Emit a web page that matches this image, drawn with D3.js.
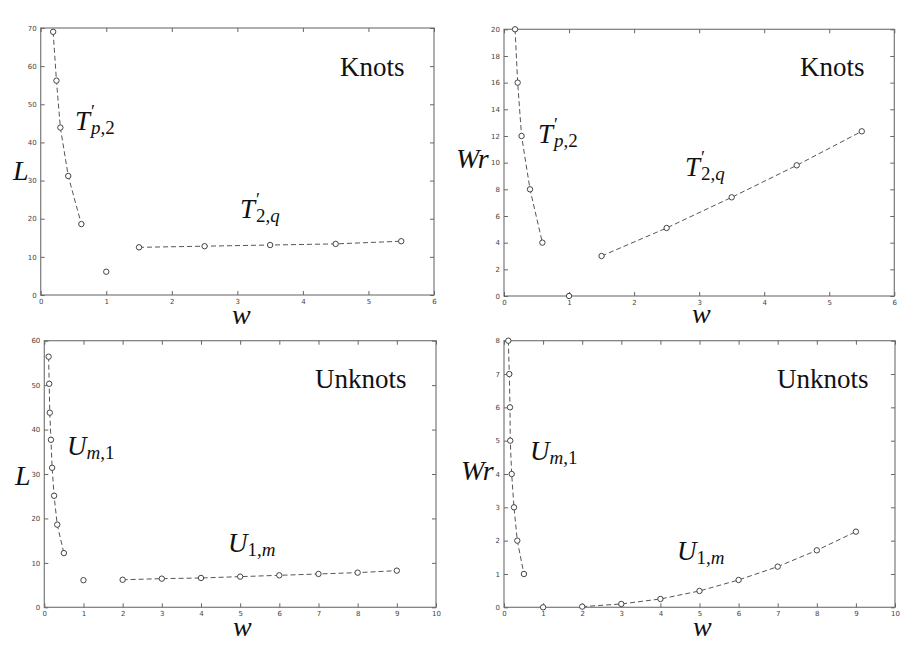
<!DOCTYPE html>
<html>
<head>
<meta charset="utf-8">
<script src="https://cdn.jsdelivr.net/npm/d3@7"></script>
<style>
  body { margin: 0; background: #fff; }
  svg { display: block; }
  .tick text { font-family: "DejaVu Sans", sans-serif; font-size: 7px; fill: #444; }
  .tick line { stroke: #666; }
  .lbl { font-family: "Liberation Serif", "Times New Roman", serif; fill: #111; }
</style>
</head>
<body>
<div name="chart"></div>
<script>
// --- data

// top-left: knots, L vs w
const knotsTp2W = [0.19, 0.24, 0.3, 0.42, 0.62];
const knotsTp2L = [69, 56.2, 43.9, 31.2, 18.6];
const knotsLoneW = [1];
const knotsLoneL = [6.1];
const knotsT2qW = [1.5, 2.5, 3.5, 4.5, 5.5];
const knotsT2qL = [12.5, 12.8, 13.1, 13.4, 14.1];

// top-right: knots, Wr vs w
const knotsTp2WrW = [0.17, 0.21, 0.27, 0.4, 0.59];
const knotsTp2Wr = [20, 16, 12, 8, 4];
const knotsLoneWr = [0];
const knotsT2qWr = [3.0, 5.1, 7.4, 9.8, 12.35];

// bottom-left: unknots, L vs w
const unkUm1W = [0.11, 0.125, 0.14, 0.17, 0.2, 0.25, 0.33, 0.5];
const unkUm1L = [56.4, 50.3, 43.8, 37.7, 31.4, 25.1, 18.6, 12.2];
const unkLoneW = [1];
const unkLoneL = [6.1];
const unkU1mW = [2, 3, 4, 5, 6, 7, 8, 9];
const unkU1mL = [6.2, 6.45, 6.6, 6.9, 7.2, 7.5, 7.8, 8.25];

// bottom-right: unknots, Wr vs w
const unkUm1WrW = [0.11, 0.136, 0.153, 0.16, 0.196, 0.256, 0.34, 0.51];
const unkUm1Wr = [8, 7, 6, 5, 4, 3, 2, 1];
const unkLoneWr = [0];
const unkU1mWr = [0.02, 0.1, 0.25, 0.49, 0.82, 1.22, 1.71, 2.27];

const xTicks6 = [0, 1, 2, 3, 4, 5, 6];
const xTicks10 = [0, 1, 2, 3, 4, 5, 6, 7, 8, 9, 10];

const zip = (xs, ys) => xs.map((x, i) => ({ x, y: ys[i] }));

const panels = [
  {
    box: [40.7, 28, 434, 295], xMax: 6, yMax: 70, xTicks: xTicks6, yTicks: d3.range(0, 71, 10),
    lines: [zip(knotsTp2W, knotsTp2L), zip(knotsT2qW, knotsT2qL)],
    lone: zip(knotsLoneW, knotsLoneL),
    yLabel: { text: 'L', x: 13, y: 180 }, xLabel: { x: 232, y: 324 },
    title: { text: 'Knots', x: 340, y: 76 },
    curves: [
      { main: 'T', sub: ['p', ',2'], prime: true, x: 75, y: 130 },
      { main: 'T', sub: ['2,', 'q'], prime: true, x: 240, y: 218 },
    ],
  },
  {
    box: [504, 29.3, 894.3, 296], xMax: 6, yMax: 20, xTicks: xTicks6, yTicks: d3.range(0, 21, 2),
    lines: [zip(knotsTp2WrW, knotsTp2Wr), zip(knotsT2qW, knotsT2qWr)],
    lone: zip(knotsLoneW, knotsLoneWr),
    yLabel: { text: 'Wr', x: 456, y: 168 }, xLabel: { x: 692, y: 323 },
    title: { text: 'Knots', x: 800, y: 76 },
    curves: [
      { main: 'T', sub: ['p', ',2'], prime: true, x: 538, y: 143 },
      { main: 'T', sub: ['2,', 'q'], prime: true, x: 685, y: 176 },
    ],
  },
  {
    box: [44.3, 340.7, 436, 607.3], xMax: 10, yMax: 60, xTicks: xTicks10, yTicks: d3.range(0, 61, 10),
    lines: [zip(unkUm1W, unkUm1L), zip(unkU1mW, unkU1mL)],
    lone: zip(unkLoneW, unkLoneL),
    yLabel: { text: 'L', x: 15, y: 485 }, xLabel: { x: 233, y: 636 },
    title: { text: 'Unknots', x: 315, y: 388 },
    curves: [
      { main: 'U', sub: ['m', ',1'], prime: false, x: 67, y: 455 },
      { main: 'U', sub: ['1,', 'm'], prime: false, x: 228, y: 552 },
    ],
  },
  {
    box: [504, 340.7, 895, 607.3], xMax: 10, yMax: 8, xTicks: xTicks10, yTicks: d3.range(0, 9, 1),
    lines: [zip(unkUm1WrW, unkUm1Wr), zip(unkU1mW, unkU1mWr)],
    lone: zip(unkLoneW, unkLoneWr),
    yLabel: { text: 'Wr', x: 461, y: 480 }, xLabel: { x: 693, y: 636 },
    title: { text: 'Unknots', x: 777, y: 388 },
    curves: [
      { main: 'U', sub: ['m', ',1'], prime: false, x: 530, y: 460 },
      { main: 'U', sub: ['1,', 'm'], prime: false, x: 677, y: 560 },
    ],
  },
];

const svg = d3.select('div[name=chart]').append('svg')
  .attr('width', 913)
  .attr('height', 652);

panels.forEach(p => {
  const [x0, y0, x1, y1] = p.box;
  const x = d3.scaleLinear().domain([0, p.xMax]).range([x0, x1]);
  const y = d3.scaleLinear().domain([0, p.yMax]).range([y1, y0]);
  const g = svg.append('g');

  g.append('rect')
    .attr('x', x0).attr('y', y0)
    .attr('width', x1 - x0).attr('height', y1 - y0)
    .attr('fill', '#fff')
    .attr('stroke', '#7a7a7a')
    .attr('stroke-width', 1.2);

  // inward ticks on all four sides, labels only bottom / left
  g.append('g')
    .attr('transform', `translate(0,${y1})`)
    .call(d3.axisBottom(x).tickValues(p.xTicks).tickSize(-4).tickPadding(4).tickFormat(d3.format('d')));
  g.append('g')
    .attr('transform', `translate(${x0},0)`)
    .call(d3.axisLeft(y).tickValues(p.yTicks).tickSize(-4).tickPadding(4).tickFormat(d3.format('d')));
  g.append('g')
    .attr('transform', `translate(0,${y0})`)
    .call(d3.axisTop(x).tickValues(p.xTicks).tickSize(-4).tickFormat(''));
  g.append('g')
    .attr('transform', `translate(${x1},0)`)
    .call(d3.axisRight(y).tickValues(p.yTicks).tickSize(-4).tickFormat(''));
  g.selectAll('.domain').remove();

  const line = d3.line().x(d => x(d.x)).y(d => y(d.y));

  p.lines.forEach(pts => {
    g.append('path')
      .datum(pts)
      .attr('fill', 'none')
      .attr('stroke', '#555')
      .attr('stroke-width', 1)
      .attr('stroke-dasharray', '5,3')
      .attr('d', line);
  });

  const allPts = p.lines.flat().concat(p.lone);
  g.selectAll('circle.pt')
    .data(allPts)
    .enter()
    .append('circle')
    .attr('class', 'pt')
    .attr('cx', d => x(d.x))
    .attr('cy', d => y(d.y))
    .attr('r', 2.7)
    .attr('fill', '#fff')
    .attr('stroke', '#444')
    .attr('stroke-width', 1);

  // labels
  g.append('text')
    .attr('class', 'lbl')
    .attr('x', p.title.x).attr('y', p.title.y)
    .attr('font-size', 27)
    .text(p.title.text);

  g.append('text')
    .attr('class', 'lbl')
    .attr('x', p.yLabel.x).attr('y', p.yLabel.y)
    .attr('font-size', 28)
    .attr('font-style', 'italic')
    .text(p.yLabel.text);

  g.append('text')
    .attr('class', 'lbl')
    .attr('x', p.xLabel.x).attr('y', p.xLabel.y)
    .attr('font-size', 28)
    .attr('font-style', 'italic')
    .text('w');

  p.curves.forEach(c => {
    const t = g.append('text')
      .attr('class', 'lbl')
      .attr('x', c.x).attr('y', c.y)
      .attr('font-size', 27)
      .attr('font-style', 'italic');
    t.append('tspan').text(c.main);
    let dx = 0;
    if (c.prime) {
      t.append('tspan').attr('dx', 1).attr('dy', -12).attr('font-size', 18).attr('font-style', 'normal').text('′');
      dx = -4;
    }
    const sub = t.append('tspan').attr('dx', dx).attr('dy', c.prime ? 16 : 4).attr('font-size', 19);
    c.sub.forEach(s => {
      sub.append('tspan')
        .attr('font-style', /[a-z]/.test(s) ? 'italic' : 'normal')
        .text(s);
    });
  });
});
</script>
</body>
</html>
